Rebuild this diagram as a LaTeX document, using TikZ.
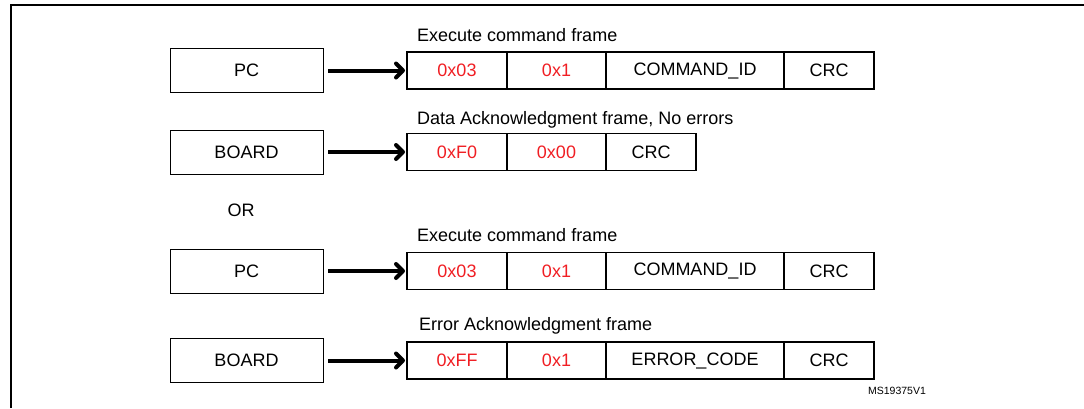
\documentclass[tikz,border=0pt]{standalone}
\usepackage{fontspec}
\setmainfont{Liberation Sans}
\usetikzlibrary{arrows.meta,positioning}
\definecolor{hexred}{RGB}{240,30,35}
\newcommand{\bigtxt}{\fontsize{18}{21}\selectfont}

\begin{document}
\begin{tikzpicture}[x=1pt,y=-1pt,
  dev/.style={draw,line width=0.9pt,minimum width=153pt,minimum height=44pt,outer sep=0pt,font=\bigtxt},
  cell/.style={draw,line width=1.8pt,minimum height=37pt,outer sep=0pt,inner sep=0pt,font=\bigtxt},
  hex/.style={cell,text=hexred},
  lbl/.style={anchor=base west,inner sep=0pt,font=\bigtxt},
  link/.style={-{Straight Barb[length=7pt,width=14pt,line cap=round,line join=round]},line width=4pt,shorten <=5pt,shorten >=2pt}]
\useasboundingbox (0,0) rectangle (1084,408);
%% figure frame (cut at right and bottom)
\draw[line width=2pt] (11,408) -- (11,5) -- (1084,5);

%% PC -> execute command frame
\node[hex,minimum width=100pt,anchor=west] (a1) at (407,70.5) {0x03};
\node[hex,minimum width=99pt,right=0pt of a1] (a2) {0x1};
\node[cell,minimum width=178pt,right=0pt of a2] (a3) {COMMAND\_ID};
\node[cell,minimum width=90pt,right=0pt of a3] (a4) {CRC};
\node[dev,left=84pt of a1] (pcA) {PC};
\node[lbl] (tA) at ([xshift=10pt,yshift=11pt]a1.north west) {Execute command frame};

%% BOARD -> data ack, no errors
\node[hex,minimum width=100pt,anchor=west] (b1) at (407,152) {0xF0};
\node[hex,minimum width=99pt,right=0pt of b1] (b2) {0x00};
\node[cell,minimum width=90pt,right=0pt of b2] (b3) {CRC};
\node[dev,left=84pt of b1] (boardB) {BOARD};
\node[lbl] (tB) at ([xshift=10pt,yshift=9pt]b1.north west) {Data Acknowledgment frame, No errors};

\node[font=\bigtxt] (orA) at (241,210) {OR};

%% PC -> execute command frame (again)
\node[hex,minimum width=100pt,anchor=west] (c1) at (407,271) {0x03};
\node[hex,minimum width=99pt,right=0pt of c1] (c2) {0x1};
\node[cell,minimum width=178pt,right=0pt of c2] (c3) {COMMAND\_ID};
\node[cell,minimum width=90pt,right=0pt of c3] (c4) {CRC};
\node[dev,left=84pt of c1] (pcC) {PC};
\node[lbl] (tC) at ([xshift=10pt,yshift=11.5pt]c1.north west) {Execute command frame};

%% BOARD -> error ack
\node[hex,minimum width=100pt,anchor=west] (d1) at (407,360.5) {0xFF};
\node[hex,minimum width=99pt,right=0pt of d1] (d2) {0x1};
\node[cell,minimum width=178pt,right=0pt of d2] (d3) {ERROR\_CODE};
\node[cell,minimum width=90pt,right=0pt of d3] (d4) {CRC};
\node[dev,left=84pt of d1] (boardD) {BOARD};
\node[lbl] (tD) at ([xshift=12pt,yshift=11.5pt]d1.north west) {Error Acknowledgment frame};

%% arrows
\foreach \src/\dst in {pcA/a1,boardB/b1,pcC/c1,boardD/d1}
  \draw[link] (\src) -- (\dst);

\node[font=\fontsize{10.5}{12}\selectfont] (msid) at (897,391) {MS19375V1};
\end{tikzpicture}
\end{document}
